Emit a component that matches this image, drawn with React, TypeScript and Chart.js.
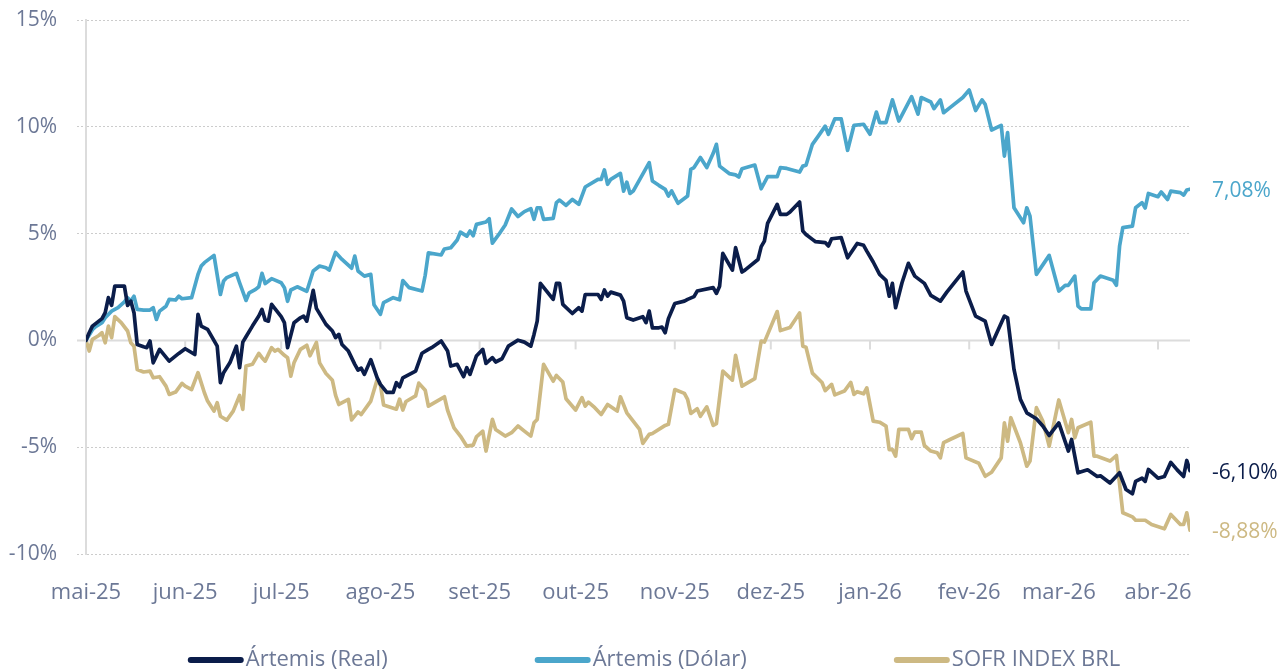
import React, { useEffect, useRef } from "react";
import { Chart, registerables } from "chart.js";

Chart.register(...registerables);

// Days counted from 1 May 2025
const monthStarts = [0, 31, 61, 92, 123, 153, 184, 214, 245, 276, 304, 335];
const monthLabels = ["mai-25", "jun-25", "jul-25", "ago-25", "set-25", "out-25", "nov-25", "dez-25", "jan-26", "fev-26", "mar-26", "abr-26"];

const seriesNames = ["Ártemis (Real)", "Ártemis (Dólar)", "SOFR INDEX BRL"];
const seriesColors = ["#0b1d4a", "#4ba6cb", "#cdb983"];

const realDays = [0,1,2,5,6,7,8,9,12,13,14,15,16,18,19,20,21,23,26,29,31,34,35,36,38,41,42,43,45,47,48,49,50,52,54,55,56,57,58,61,62,63,65,67,68,69,71,72,75,77,78,79,80,82,84,85,86,87,89,91,92,94,96,97,98,99,103,105,107,108,111,113,114,116,118,119,120,122,124,125,127,128,130,132,135,137,139,140,141,142,146,147,148,149,152,154,155,156,160,161,162,163,164,167,168,169,171,174,175,176,177,179,180,181,182,184,187,188,190,191,196,197,198,199,202,203,205,206,210,211,212,213,216,217,219,220,223,224,225,227,228,231,232,233,236,238,241,243,244,246,248,250,251,252,253,255,257,259,262,264,267,269,274,275,278,281,283,287,288,290,292,294,297,299,301,304,307,308,310,313,316,317,320,323,325,327,328,330,331,332,335,337,339,341,343,344,345];
const realValues = [0,0.36,0.67,1.02,1.3,2.0,1.64,2.54,2.54,1.64,1.84,1.3,-0.19,-0.3,-0.34,-0.03,-1.05,-0.42,-0.97,-0.61,-0.39,-0.66,1.22,0.67,0.52,-0.27,-1.98,-1.51,-1.04,-0.27,-1.28,-0.08,0.17,0.67,1.14,1.45,0.95,0.9,1.69,1.11,0.83,-0.34,0.83,1.06,1.14,0.9,2.34,1.5,0.75,0.44,0.13,0.28,-0.19,-0.5,-1.12,-1.39,-1.3,-1.59,-0.9,-1.75,-2.06,-2.43,-2.43,-1.98,-2.17,-1.75,-1.44,-0.6,-0.42,-0.34,-0.03,-0.5,-1.2,-1.12,-1.7,-1.28,-1.59,-0.73,-0.42,-1.08,-0.81,-1.01,-0.86,-0.27,0.01,-0.08,-0.27,0.28,0.9,2.67,1.92,2.67,2.67,1.69,1.26,1.53,1.37,2.15,2.15,1.92,2.36,2.07,2.26,2.12,1.84,1.06,0.95,1.11,0.83,1.37,0.59,0.59,0.62,0.36,1.02,1.73,1.84,1.92,2.05,2.31,2.47,2.2,2.54,4.07,3.29,4.34,3.2,3.3,3.79,4.39,4.65,5.48,6.37,5.9,5.9,6.01,6.48,5.12,4.96,4.73,4.62,4.58,4.42,4.76,4.81,3.87,4.54,4.45,4.18,3.67,3.09,2.81,2.07,2.67,1.53,2.7,3.61,3.01,2.67,2.11,1.84,2.26,3.2,2.31,1.14,0.9,-0.19,1.14,1.06,-1.36,-2.76,-3.39,-3.67,-4.01,-4.45,-3.86,-5.18,-4.64,-6.2,-6.06,-6.37,-6.34,-6.68,-6.2,-6.98,-7.18,-6.6,-6.45,-6.6,-6.04,-6.45,-6.37,-5.71,-6.06,-6.37,-5.62,-6.1];

const dolarDays = [0,2,3,5,6,8,10,12,13,14,15,16,18,20,21,22,23,25,26,28,29,30,33,35,36,37,40,42,43,44,47,48,50,51,53,54,55,56,58,61,62,63,64,66,69,71,73,75,76,78,80,83,84,85,87,89,90,92,93,96,98,99,101,105,106,107,111,112,114,116,117,119,120,121,122,125,126,127,129,131,133,135,137,139,140,141,142,143,146,147,148,150,152,154,156,160,161,162,163,164,167,168,169,170,171,176,177,179,181,182,183,185,188,189,190,192,194,196,197,198,201,203,204,205,209,211,213,216,217,219,223,224,225,227,229,231,232,234,236,238,240,243,245,247,248,250,252,254,258,260,261,264,265,267,268,270,274,276,278,280,281,283,286,287,288,290,293,294,295,297,301,304,306,307,309,310,311,314,315,317,321,322,323,324,327,328,330,331,332,335,336,338,339,342,343,344,345];
const dolarValues = [0,0.5,0.64,0.83,1.06,1.37,1.53,1.8,2.0,1.84,2.07,1.45,1.42,1.42,1.53,0.98,1.37,1.6,1.92,1.89,2.07,1.95,2.0,3.09,3.48,3.64,3.98,2.15,2.78,2.94,3.14,2.7,1.87,2.23,2.39,2.51,3.14,2.66,2.89,2.7,2.47,1.83,2.36,2.51,2.3,3.25,3.48,3.4,3.29,4.12,3.79,3.38,3.95,3.25,3.01,3.09,1.67,1.22,1.77,2.0,1.9,2.8,2.47,2.31,3.05,4.1,4.0,4.28,4.34,4.7,5.07,4.88,5.12,4.9,5.43,5.54,5.7,4.55,4.96,5.4,6.15,5.8,6.03,6.17,5.67,6.21,6.21,5.67,5.71,6.45,6.57,6.32,6.6,6.37,7.18,7.54,7.54,7.98,7.31,7.54,7.82,6.99,7.41,6.88,6.99,8.32,7.46,7.26,7.07,6.76,7.0,6.42,6.76,8.01,8.09,8.56,8.09,8.76,9.18,8.16,7.81,7.75,7.65,8.04,8.21,7.1,7.67,7.67,8.09,8.05,7.88,8.16,8.2,9.18,9.6,10.03,9.65,10.37,10.37,8.9,10.07,10.12,9.65,10.69,10.2,10.2,11.26,10.27,11.41,10.59,11.37,11.16,10.85,11.26,10.66,10.9,11.37,11.72,10.76,11.26,11.05,9.85,10.07,8.63,9.73,6.21,5.51,6.21,5.82,3.09,3.98,2.31,2.58,2.58,3.01,1.61,1.48,1.48,2.7,3.01,2.82,2.58,4.42,5.28,5.35,6.21,6.45,6.2,6.88,6.73,6.95,6.6,6.99,6.92,6.8,7.04,7.08];

const sofrDays = [0,1,2,4,5,6,7,8,9,11,13,14,15,16,18,20,21,23,25,26,28,30,31,33,35,37,38,40,41,42,44,46,48,49,50,52,54,55,56,58,59,60,62,63,64,65,67,69,70,72,73,75,77,78,79,82,83,85,86,89,91,92,93,97,98,99,100,103,104,106,107,112,113,115,117,119,121,122,124,125,127,128,131,133,135,137,139,140,141,143,146,147,149,150,153,155,156,157,159,161,163,166,167,169,173,174,176,177,181,182,184,187,188,189,191,192,194,196,197,199,202,203,205,209,211,212,216,217,220,223,224,225,227,230,231,233,234,237,239,240,241,243,244,246,248,250,251,252,253,254,257,258,259,261,262,264,266,267,268,270,274,275,279,281,283,286,287,288,289,292,294,295,297,299,301,304,307,308,309,310,314,315,316,320,322,324,327,328,331,333,337,339,342,343,344,345];
const sofrValues = [0,-0.5,0.05,0.23,0.36,-0.11,0.67,0.13,1.11,0.83,0.44,-0.11,-0.27,-1.36,-1.48,-1.44,-1.75,-1.7,-2.14,-2.53,-2.42,-2.01,-2.14,-2.3,-1.51,-2.45,-2.84,-3.31,-2.92,-3.55,-3.73,-3.31,-2.58,-3.23,-1.2,-1.12,-0.61,-0.81,-0.97,-0.34,-0.5,-0.42,-0.7,-0.81,-1.67,-1.05,-0.42,-0.23,-0.72,-0.1,-1.05,-1.55,-1.87,-2.57,-3.0,-2.76,-3.72,-3.35,-3.47,-2.84,-1.83,-2.08,-3.02,-3.22,-2.75,-3.26,-2.86,-2.6,-2.0,-2.33,-3.08,-2.64,-3.27,-4.09,-4.48,-4.95,-4.9,-4.52,-4.25,-5.18,-3.7,-4.17,-4.48,-4.32,-4.01,-4.25,-4.48,-3.86,-3.7,-1.12,-1.91,-1.64,-1.95,-2.73,-3.26,-2.68,-3.08,-2.89,-3.15,-3.47,-3.0,-3.31,-2.64,-3.39,-4.17,-4.82,-4.4,-4.36,-3.98,-3.93,-2.3,-2.48,-2.76,-3.42,-3.2,-3.55,-3.11,-3.98,-3.9,-1.44,-1.86,-0.7,-2.14,-1.79,-0.03,-0.08,1.35,0.46,0.6,1.28,-0.27,-0.32,-1.53,-1.97,-2.35,-2.06,-2.55,-2.37,-1.97,-2.53,-2.4,-2.5,-2.22,-3.78,-3.83,-4.01,-5.11,-5.11,-5.42,-4.17,-4.17,-4.6,-4.29,-4.29,-4.92,-5.18,-5.26,-5.5,-4.79,-4.64,-4.36,-5.5,-5.75,-6.36,-6.17,-5.5,-3.86,-4.72,-3.62,-4.79,-5.89,-5.65,-3.15,-3.78,-4.95,-2.79,-4.32,-3.7,-4.56,-4.09,-3.83,-5.42,-5.42,-5.65,-5.39,-8.07,-8.26,-8.42,-8.42,-8.62,-8.82,-8.15,-8.62,-8.62,-8.07,-8.88];

const seriesDays = [realDays, dolarDays, sofrDays];
const seriesValues = [realValues, dolarValues, sofrValues];

const TICK_COLOR = "#6c7896";
const FONT_FAMILY = '"Open Sans", sans-serif';

const fmtPct = (v: number) => v.toFixed(2).replace(".", ",") + "%";

const decorPlugin = {
  id: "decor",
  beforeDatasetsDraw(chart: any) {
    const { ctx, chartArea, scales } = chart;
    const y0 = scales.y.getPixelForValue(0);
    ctx.save();
    ctx.strokeStyle = "#dcdcdc";
    ctx.lineWidth = 2;
    ctx.beginPath();
    ctx.moveTo(chartArea.left - 9, y0);
    ctx.lineTo(chartArea.right, y0);
    ctx.stroke();
    monthStarts.forEach((d) => {
      const x = scales.x.getPixelForValue(d);
      ctx.beginPath();
      ctx.moveTo(x, y0);
      ctx.lineTo(x, y0 + 9);
      ctx.stroke();
    });
    ctx.restore();
  },
  afterDatasetsDraw(chart: any) {
    const { ctx, chartArea } = chart;
    ctx.save();
    ctx.font = `21px ${FONT_FAMILY}`;
    ctx.textAlign = "left";
    ctx.textBaseline = "middle";
    chart.data.datasets.forEach((ds: any, i: number) => {
      const meta = chart.getDatasetMeta(i);
      const last = meta.data[meta.data.length - 1];
      const vals = seriesValues[i];
      ctx.fillStyle = seriesColors[i];
      ctx.fillText(fmtPct(vals[vals.length - 1]), chartArea.right + 22, last.y + 2);
    });
    ctx.restore();
  },
  afterDraw(chart: any) {
    const { ctx } = chart;
    ctx.save();
    ctx.font = `22px ${FONT_FAMILY}`;
    ctx.textBaseline = "middle";
    ctx.textAlign = "left";
    const lineW = 56;
    const gapText = 2;
    const gapItem = 147;
    const widths = seriesNames.map((n) => lineW + gapText + ctx.measureText(n).width);
    const total = widths.reduce((a, b) => a + b, 0) + gapItem * (seriesNames.length - 1);
    let x = 654 - total / 2;
    const y = 660;
    seriesNames.forEach((n, i) => {
      ctx.strokeStyle = seriesColors[i];
      ctx.lineWidth = 6;
      ctx.lineCap = "round";
      ctx.beginPath();
      ctx.moveTo(x + 3, y);
      ctx.lineTo(x + lineW - 3, y);
      ctx.stroke();
      ctx.fillStyle = TICK_COLOR;
      ctx.fillText(n, x + lineW + gapText, y);
      x += widths[i] + gapItem;
    });
    ctx.restore();
  },
};

export default function App() {
  const canvasRef = useRef<HTMLCanvasElement | null>(null);

  useEffect(() => {
    if (!canvasRef.current) return;
    const chart = new Chart(canvasRef.current, {
      type: "line",
      data: {
        datasets: seriesNames.map((name, i) => ({
          label: name,
          data: seriesDays[i].map((d, j) => ({ x: d, y: seriesValues[i][j] })),
          borderColor: seriesColors[i],
          backgroundColor: seriesColors[i],
          borderWidth: 3.7,
          pointRadius: 0,
          tension: 0,
          borderJoinStyle: "round",
          borderCapStyle: "round",
          fill: false,
        })),
      },
      options: {
        animation: false,
        responsive: false,
        maintainAspectRatio: false,
        layout: { padding: { top: 20, right: 93, bottom: 66, left: 0 } },
        plugins: {
          legend: { display: false },
          tooltip: { enabled: false },
        },
        scales: {
          x: {
            type: "linear",
            min: 0,
            max: 345,
            afterBuildTicks: (s: any) => {
              s.ticks = monthStarts.map((v) => ({ value: v }));
            },
            afterFit: (s: any) => {
              s.height = 52;
            },
            ticks: {
              callback: (v: any) => monthLabels[monthStarts.indexOf(v)],
              autoSkip: false,
              maxRotation: 0,
              padding: 26,
              color: TICK_COLOR,
              font: { family: FONT_FAMILY, size: 22 },
            },
            grid: { display: false, drawTicks: false },
            border: { display: false },
          },
          y: {
            min: -10,
            max: 15,
            afterFit: (s: any) => {
              s.width = 86;
              s.paddingTop = 12;
              s.paddingBottom = 12;
            },
            ticks: {
              stepSize: 5,
              callback: (v: any) => `${v}%`,
              padding: 20,
              color: TICK_COLOR,
              font: { family: FONT_FAMILY, size: 21 },
            },
            grid: {
              color: "#cccccc",
              lineWidth: 1,
              tickLength: 9,
              tickBorderDash: [2, 2],
              drawTicks: true,
            },
            border: { display: true, color: "#dcdcdc", width: 2, dash: [2, 2] },
          },
        },
      },
      plugins: [decorPlugin],
    });
    return () => chart.destroy();
  }, []);

  return (
    <div style={{ position: "absolute", left: 0, top: 0, width: 1283, height: 672, background: "#ffffff" }}>
      <canvas ref={canvasRef} width={1283} height={672} style={{ width: 1283, height: 672, display: "block" }} />
    </div>
  );
}
